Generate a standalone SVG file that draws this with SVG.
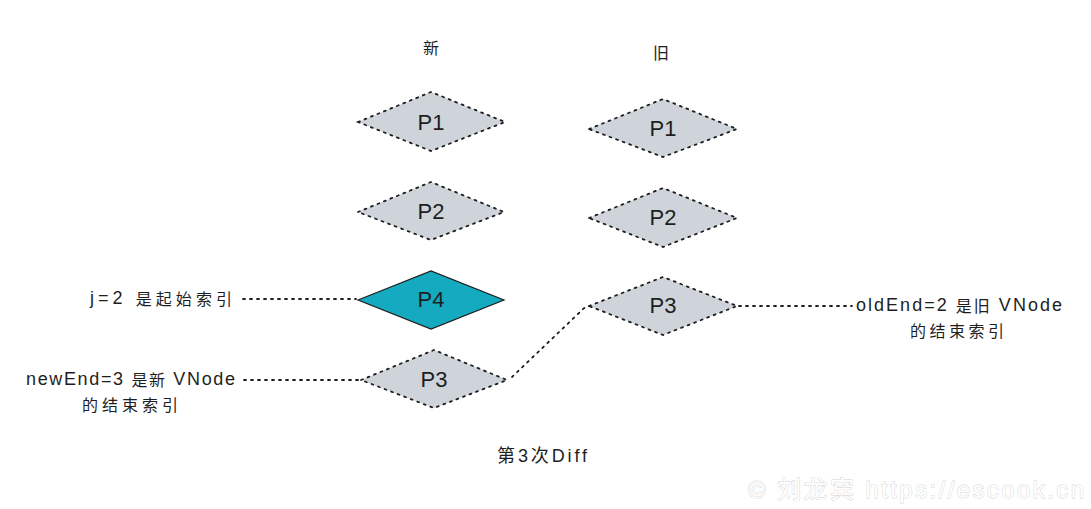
<svg xmlns="http://www.w3.org/2000/svg" width="1091" height="509" viewBox="0 0 1091 509">
<style>
.bg{fill:#ffffff}
.dia{fill:#ced4da;stroke:#1e1e1e;stroke-width:1.8;stroke-dasharray:2 5;stroke-linecap:round}
.dia-solid{fill:#15aabf;stroke:#1e1e1e;stroke-width:1.2}
.lbl{font-family:"Liberation Sans","Noto Sans CJK SC",sans-serif;font-size:22px;fill:#1e1e1e;text-anchor:middle;dominant-baseline:central}
.txt{font-family:"Liberation Sans","Noto Sans CJK SC",sans-serif;font-size:18px;fill:#1e1e1e;dominant-baseline:central}
.cn{font-family:"Noto Sans CJK SC",sans-serif;font-size:16px;fill:#1e1e1e;dominant-baseline:central}
.conn{fill:none;stroke:#1e1e1e;stroke-width:1.8;stroke-dasharray:2 5;stroke-linecap:round}
.wm{font-family:"Liberation Sans","Noto Sans CJK SC",sans-serif;font-size:24px;fill:#ffffff;stroke:#d4d4d4;stroke-width:0.9;paint-order:stroke}
</style>
<rect class="bg" x="0" y="0" width="1091" height="509"/>
<text class="cn" x="431" y="47" text-anchor="middle" font-size="17">新</text>
<text class="cn" x="661" y="52" text-anchor="middle" font-size="17">旧</text>
<g id="connectors">
<path class="conn" d="M243 299 L356 299"/>
<path class="conn" d="M244 380 L359 380"/>
<path class="conn" d="M739 306 L852 306"/>
<path class="conn" d="M512 377 L580 312 Q584 307 590 306"/>
</g>
<g id="new-p1"><polygon class="dia" points="358,122 431,92 505,122 431,151"/><text class="lbl" x="431" y="122">P1</text></g>
<g id="new-p2"><polygon class="dia" points="358,212 431,182 504,212 431,240"/><text class="lbl" x="431" y="211">P2</text></g>
<g id="new-p4"><polygon class="dia-solid" points="358,300 431,271 504,300 431,329"/><text class="lbl" x="431" y="299">P4</text></g>
<g id="new-p3"><polygon class="dia" points="361,380 434,350 507,380 434,408"/><text class="lbl" x="434" y="379">P3</text></g>
<g id="old-p1"><polygon class="dia" points="589,129 663,99 737,129 663,157"/><text class="lbl" x="663" y="128">P1</text></g>
<g id="old-p2"><polygon class="dia" points="589,218 663,188 737,218 663,247"/><text class="lbl" x="663" y="217">P2</text></g>
<g id="old-p3"><polygon class="dia" points="589,306 663,277 737,306 663,335"/><text class="lbl" x="663" y="305">P3</text></g>
<g id="label-j">
<text class="txt" x="90" y="298" textLength="142" lengthAdjust="spacing">j=2 <tspan font-family="Noto Sans CJK SC, sans-serif" font-size="16">是起始索引</tspan></text>
</g>
<g id="label-newEnd">
<text class="txt" x="26" y="379" textLength="209" lengthAdjust="spacing">newEnd=3 <tspan font-family="Noto Sans CJK SC, sans-serif" font-size="16">是新</tspan> VNode</text>
<text class="cn" x="82" y="404" textLength="96" lengthAdjust="spacing">的结束索引</text>
</g>
<g id="label-oldEnd">
<text class="txt" x="856" y="305" textLength="206" lengthAdjust="spacing">oldEnd=2 <tspan font-family="Noto Sans CJK SC, sans-serif" font-size="16">是旧</tspan> VNode</text>
<text class="cn" x="910" y="330" textLength="94" lengthAdjust="spacing">的结束索引</text>
</g>
<g id="caption">
<text class="txt" x="497" y="456" textLength="90" lengthAdjust="spacing">第3次Diff</text>
</g>
<text class="wm" x="748" y="498" textLength="336" lengthAdjust="spacing">© 刘龙宾 https://escook.cn</text>
</svg>
